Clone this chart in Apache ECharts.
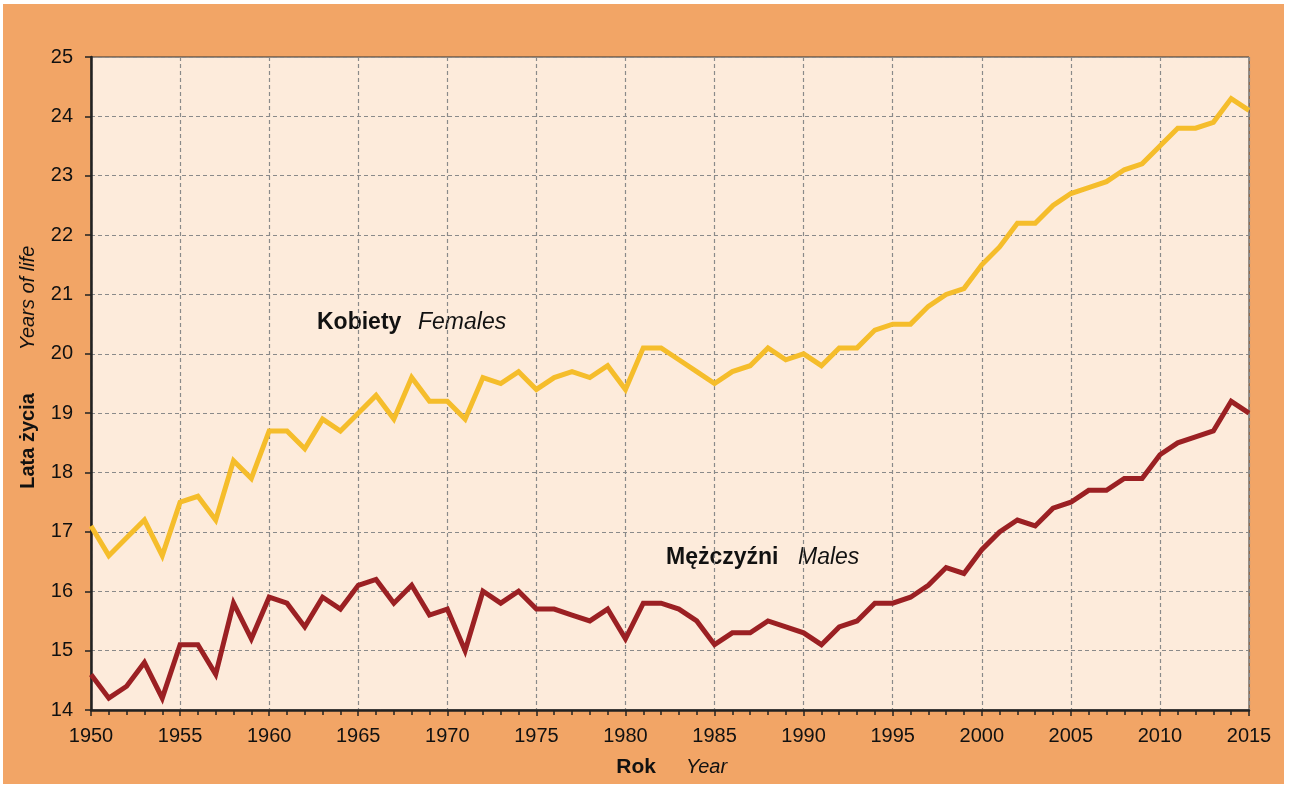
<!DOCTYPE html>
<html>
<head>
<meta charset="utf-8">
<script src="https://cdn.jsdelivr.net/npm/echarts@6/dist/echarts.min.js"></script>
<style>
  html, body { margin: 0; padding: 0; background: #fff; }
  #frame { position: absolute; left: 3px; top: 4px; width: 1281px; height: 780px; background: #F2A566; }
  #chart { position: absolute; left: 0; top: 0; width: 1290px; height: 785px; }
</style>
</head>
<body>
<div id="frame"></div>
<div id="chart"></div>
<script>
const years = [
  1950, 1951, 1952, 1953, 1954, 1955, 1956, 1957, 1958, 1959,
  1960, 1961, 1962, 1963, 1964, 1965, 1966, 1967, 1968, 1969,
  1970, 1971, 1972, 1973, 1974, 1975, 1976, 1977, 1978, 1979,
  1980, 1981, 1982, 1983, 1984, 1985, 1986, 1987, 1988, 1989,
  1990, 1991, 1992, 1993, 1994, 1995, 1996, 1997, 1998, 1999,
  2000, 2001, 2002, 2003, 2004, 2005, 2006, 2007, 2008, 2009,
  2010, 2011, 2012, 2013, 2014, 2015,
]

// Kobiety / Females
const females = [
  17.1, 16.6, 16.9, 17.2, 16.6, 17.5, 17.6, 17.2, 18.2, 17.9,
  18.7, 18.7, 18.4, 18.9, 18.7, 19.0, 19.3, 18.9, 19.6, 19.2,
  19.2, 18.9, 19.6, 19.5, 19.7, 19.4, 19.6, 19.7, 19.6, 19.8,
  19.4, 20.1, 20.1, 19.9, 19.7, 19.5, 19.7, 19.8, 20.1, 19.9,
  20.0, 19.8, 20.1, 20.1, 20.4, 20.5, 20.5, 20.8, 21.0, 21.1,
  21.5, 21.8, 22.2, 22.2, 22.5, 22.7, 22.8, 22.9, 23.1, 23.2,
  23.5, 23.8, 23.8, 23.9, 24.3, 24.1,
]

// Mężczyźni / Males
const males = [
  14.6, 14.2, 14.4, 14.8, 14.2, 15.1, 15.1, 14.6, 15.8, 15.2,
  15.9, 15.8, 15.4, 15.9, 15.7, 16.1, 16.2, 15.8, 16.1, 15.6,
  15.7, 15.0, 16.0, 15.8, 16.0, 15.7, 15.7, 15.6, 15.5, 15.7,
  15.2, 15.8, 15.8, 15.7, 15.5, 15.1, 15.3, 15.3, 15.5, 15.4,
  15.3, 15.1, 15.4, 15.5, 15.8, 15.8, 15.9, 16.1, 16.4, 16.3,
  16.7, 17.0, 17.2, 17.1, 17.4, 17.5, 17.7, 17.7, 17.9, 17.9,
  18.3, 18.5, 18.6, 18.7, 19.2, 19.0,
]

const FEMALE = '#F5BD2B'
const MALE = '#9B2023'
const TEXT = '#111'
const FONT = '"Liberation Sans", Arial, sans-serif'

function label(text, x, y, opts) {
  return {
    type: 'text',
    x, y,
    rotation: opts.rotation || 0,
    silent: true,
    style: {
      text,
      fill: TEXT,
      font: `${opts.italic ? 'italic ' : ''}${opts.bold ? 'bold ' : ''}${opts.size || 20}px ${FONT}`,
      textAlign: opts.align || 'left',
      textVerticalAlign: 'middle',
    },
  }
}

const chart = echarts.init(document.getElementById('chart'))
chart.setOption({
  animation: false,
  backgroundColor: 'transparent',
  textStyle: { fontFamily: FONT },
  grid: {
    left: 91, right: 41, top: 57, bottom: 75,
    show: true,
    backgroundColor: '#FDEBDB',
    borderColor: '#333',
    borderWidth: 1,
  },
  xAxis: {
    type: 'value',
    min: 1950,
    max: 2015,
    interval: 5,
    axisLine: { show: true, lineStyle: { color: '#222', width: 2.5 } },
    axisTick: { show: true, length: 6, lineStyle: { color: '#222', width: 1.5 } },
    minorTick: { show: true, splitNumber: 5, length: 5, lineStyle: { color: '#222', width: 1.5 } },
    axisLabel: { color: TEXT, fontSize: 20, margin: 16, formatter: (v) => String(v) },
    splitLine: { show: true, lineStyle: { color: '#8a8a8a', type: [4, 3], width: 1.2 } },
  },
  yAxis: {
    type: 'value',
    min: 14,
    max: 25,
    interval: 1,
    axisLine: { show: true, lineStyle: { color: '#222', width: 2.5 } },
    axisTick: { show: true, length: 6, lineStyle: { color: '#222', width: 1.5 } },
    axisLabel: { color: TEXT, fontSize: 20, margin: 18 },
    splitLine: { show: true, lineStyle: { color: '#8a8a8a', type: [4, 3], width: 1.2 } },
  },
  series: [
    {
      name: 'Kobiety',
      type: 'line',
      data: years.map((y, i) => [y, females[i]]),
      showSymbol: false,
      lineStyle: { color: FEMALE, width: 5, join: 'miter' },
      z: 3,
    },
    {
      name: 'Mężczyźni',
      type: 'line',
      data: years.map((y, i) => [y, males[i]]),
      showSymbol: false,
      lineStyle: { color: MALE, width: 5, join: 'miter' },
      z: 3,
    },
  ],
  graphic: [
    label('Kobiety', 317, 323, { bold: true, size: 23 }),
    label('Females', 418, 323, { italic: true, size: 23 }),
    label('Mężczyźni', 666, 558, { bold: true, size: 23 }),
    label('Males', 798, 558, { italic: true, size: 23 }),
    label('Rok', 656, 767, { bold: true, align: 'right', size: 21 }),
    label('Year', 686, 767, { italic: true }),
    label('Lata życia', 28, 441, { bold: true, align: 'center', rotation: Math.PI / 2 }),
    label('Years of life', 28, 298, { italic: true, align: 'center', rotation: Math.PI / 2 }),
  ],
})
</script>
</body>
</html>
